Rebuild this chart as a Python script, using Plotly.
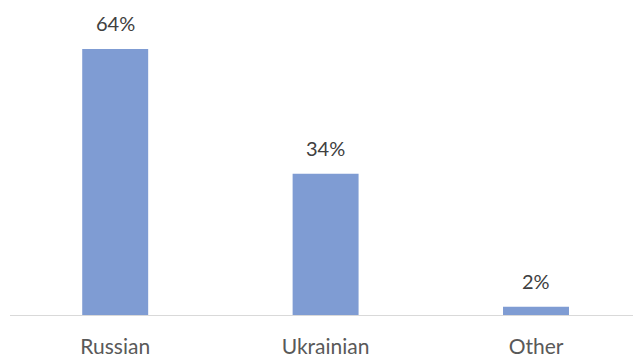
import plotly.graph_objects as go

# Share of respondents by language
categories = ["Russian", "Ukrainian", "Other"]
shares = [64, 34, 2]
value_labels = [f"{v}%" for v in shares]

bar_color = "#7F9CD3"
label_color = "#404040"
tick_color = "#595959"
font_family = "Lato, 'Open Sans', sans-serif"

fig = go.Figure()
fig.add_trace(go.Bar(
    x=categories,
    y=shares,
    width=0.3135,
    marker=dict(color=bar_color, line=dict(width=0)),
    hoverinfo="skip",
))

for cat, v, lab in zip(categories, shares, value_labels):
    fig.add_annotation(
        x=cat, y=v, text=lab, showarrow=False,
        yanchor="bottom", yshift=12,
        font=dict(family=font_family, size=20, color=label_color),
    )

fig.update_layout(
    width=633, height=357,
    margin=dict(l=10, r=0, t=0, b=42, autoexpand=False),
    paper_bgcolor="white",
    plot_bgcolor="white",
    showlegend=False,
    xaxis=dict(
        range=[-0.5, 2.461],
        automargin=False,
        showline=True, linecolor="#D9D9D9", linewidth=1,
        showgrid=False, zeroline=False,
        ticks="outside", ticklen=13, tickcolor="rgba(0,0,0,0)",
        tickfont=dict(family=font_family, size=21, color=tick_color),
    ),
    yaxis=dict(
        range=[0, 75.8],
        automargin=False,
        visible=False, showgrid=False, zeroline=False,
    ),
)

fig.write_html("out.html")
